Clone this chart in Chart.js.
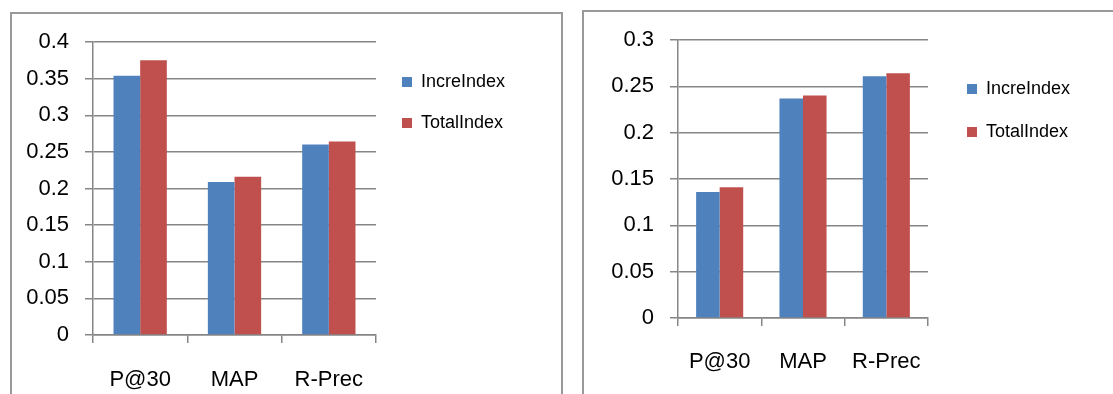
<!DOCTYPE html>
<html>
<head>
<meta charset="utf-8">
<script src="https://cdn.jsdelivr.net/npm/chart.js@4.4.1/dist/chart.umd.min.js"></script>
<style>
  body { margin: 0; background: #fff; width: 1113px; height: 394px; overflow: hidden; position: relative; }
  .frame { position: absolute; border: 2px solid #999; }
  canvas { position: absolute; top: 0; }
</style>
</head>
<body>
<div class="frame" style="left:10px; top:12px; width:549px; height:400px;"></div>
<div class="frame" style="left:582px; top:10px; width:600px; height:400px;"></div>
<canvas id="left" width="560" height="394" style="left:0"></canvas>
<canvas id="right" width="553" height="394" style="left:560px"></canvas>
<script>
const categories = ["P@30", "MAP", "R-Prec"];
const seriesNames = ["IncreIndex", "TotalIndex"];

// left panel
const leftIncre = [0.354, 0.209, 0.26];
const leftTotal = [0.375, 0.216, 0.264];
const leftTicksMax = 0.4;

// right panel
const rightIncre = [0.136, 0.237, 0.261];
const rightTotal = [0.141, 0.24, 0.264];
const rightTicksMax = 0.3;

const FONT = "'Liberation Sans', Arial, sans-serif";
const LEGEND_SIZE = 18;
const BOX = 10;
const GRID = "#868686";

// width of the legend box, so the plot area ends where it should
function legendWidth(pad) {
  const ctx = document.createElement("canvas").getContext("2d");
  ctx.font = LEGEND_SIZE + "px " + FONT;
  const w = Math.max(...seriesNames.map((t) => ctx.measureText(t).width));
  return pad + BOX + LEGEND_SIZE / 2 + w + 10;
}

function makeChart(id, incre, total, yMax, p) {
  const canvas = document.getElementById(id);
  const padRight = canvas.width - p.plotRight - p.gap - legendWidth(p.legendPad);
  return new Chart(canvas, {
    type: "bar",
    data: {
      labels: categories,
      datasets: [
        { label: seriesNames[0], data: incre, backgroundColor: "#4F81BD" },
        { label: seriesNames[1], data: total, backgroundColor: "#C0504D" },
      ],
    },
    options: {
      responsive: false,
      animation: false,
      categoryPercentage: 0.565,
      barPercentage: 1,
      layout: { padding: { left: p.padLeft, top: p.padTop, right: padRight, bottom: 0 } },
      plugins: {
        tooltip: { enabled: false },
        legend: {
          position: "right",
          align: "start",
          fullSize: false,
          maxWidth: 400,
          title: { display: true, text: "", padding: 0, font: { size: p.titleH, lineHeight: 1 } },
          labels: {
            boxWidth: BOX,
            boxHeight: BOX,
            padding: p.legendPad,
            color: "#000",
            font: { family: FONT, size: LEGEND_SIZE },
          },
        },
      },
      scales: {
        x: {
          grid: { drawOnChartArea: false, drawTicks: true, tickLength: 8, color: GRID, lineWidth: 1.5 },
          border: { color: GRID, width: 1.5 },
          ticks: { color: "#000", padding: p.xPad, font: { family: FONT, size: 22 } },
          afterFit: (s) => { s.height = p.xHeight; },
        },
        y: {
          min: 0,
          max: yMax,
          ticks: {
            stepSize: 0.05,
            color: "#000",
            padding: 16,
            font: { family: FONT, size: 22 },
            callback: (v) => String(+v.toFixed(2)),
          },
          grid: { color: GRID, lineWidth: 1.5, tickLength: 8 },
          border: { color: GRID, width: 1.5 },
          afterFit: (s) => { s.width = 83; },
        },
        // empty axis that only keeps space between plot and legend
        gap: {
          type: "linear",
          position: "right",
          grid: { display: false },
          ticks: { display: false },
          border: { display: false },
          afterFit: (s) => { s.width = p.gap; },
        },
      },
    },
  });
}

makeChart("left", leftIncre, leftTotal, leftTicksMax, {
  padLeft: 10, padTop: 42, plotRight: 376, xHeight: 59, xPad: 24, legendPad: 23, titleH: 8, gap: 3,
});
makeChart("right", rightIncre, rightTotal, rightTicksMax, {
  padLeft: 35, padTop: 40, plotRight: 368, xHeight: 76, xPad: 23, legendPad: 25, titleH: 15, gap: 14,
});
</script>
</body>
</html>
